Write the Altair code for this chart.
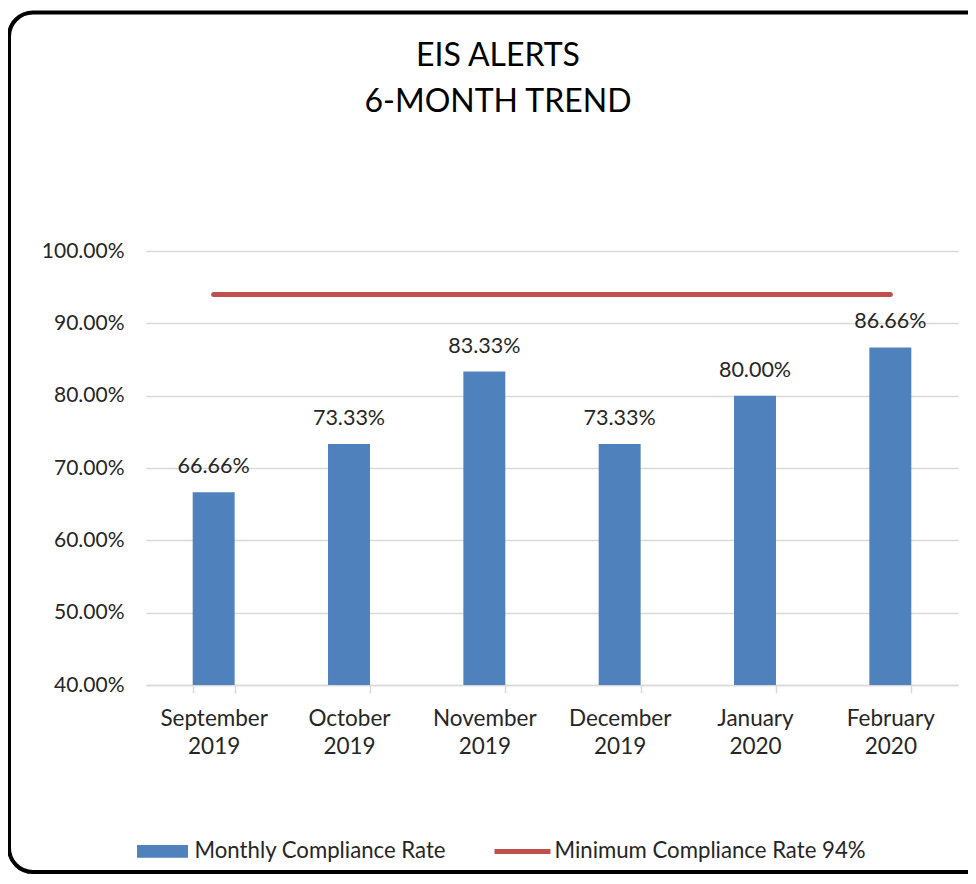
import altair as alt
import pandas as pd

months = ["September 2019", "October 2019", "November 2019",
          "December 2019", "January 2020", "February 2020"]
rates = [0.6666, 0.7333, 0.8333, 0.7333, 0.8000, 0.8666]
minimum_rate = 0.94
series_names = ["Monthly Compliance Rate", "Minimum Compliance Rate 94%"]
y_ticks = [0.4, 0.5, 0.6, 0.7, 0.8, 0.9, 1.0]
y_floor = 0.4

BLUE = "#4f81bd"
RED = "#c0504d"
GRID = "#d9d9d9"
FONT = "Lato"
TXT = "#262626"

df = pd.DataFrame({"month": months, "rate": rates})
df_min = pd.DataFrame({"month": months, "rate": [minimum_rate] * len(months)})
df_leg = pd.DataFrame({"series": series_names})
df_frame = pd.DataFrame({"a": [0]})

xscale = alt.Scale(domain=months, paddingInner=0.69, paddingOuter=0.345)
yscale = alt.Scale(domain=[0.4, 1.0], nice=False, zero=False)

x_enc = alt.X("month:N", scale=xscale, sort=months, title=None,
              axis=alt.Axis(labelExpr="split(datum.label, ' ')", labelAngle=0,
                            labelLineHeight=28, labelPadding=14, tickBand="extent",
                            tickSize=8, tickColor=GRID, tickWidth=1.5,
                            domainColor=GRID, domainWidth=1.5, grid=False,
                            labelFont=FONT, labelFontSize=22.5, labelColor=TXT))
y_enc = alt.Y("rate:Q", scale=yscale, title=None,
              axis=alt.Axis(values=y_ticks, format=".2%", domain=False, ticks=False,
                            grid=True, gridColor=GRID, gridWidth=1.5,
                            labelPadding=22, labelFont=FONT, labelFontSize=21,
                            labelColor=TXT))

bars = alt.Chart(df).mark_bar(color=BLUE).encode(x=x_enc, y=y_enc, y2=alt.datum(y_floor))

labels = alt.Chart(df).mark_text(dy=-19, baseline="alphabetic", font=FONT,
                                 fontSize=21.5, color=TXT).encode(
    x=alt.X("month:N", scale=xscale, sort=months),
    y=alt.Y("rate:Q", scale=yscale),
    text=alt.Text("rate:Q", format=".2%"))

minline = alt.Chart(df_min).mark_line(color=RED, strokeWidth=5, strokeCap="round").encode(
    x=alt.X("month:N", scale=xscale, sort=months),
    y=alt.Y("rate:Q", scale=yscale))

leg = dict(title=None, orient="none", direction="horizontal",
           legendX=-11.5, legendY=572, symbolSize=3136, symbolOpacity=1,
           symbolStrokeWidth=0, labelOffset=4, columnPadding=48,
           labelFont=FONT, labelFontSize=22.2, labelColor=TXT, labelLimit=400)

legend_layer = alt.Chart(df_leg).mark_point(opacity=0, filled=True).encode(
    color=alt.Color("series:N",
                    scale=alt.Scale(domain=series_names, range=[BLUE, RED]),
                    legend=alt.Legend(**leg)),
    shape=alt.Shape("series:N",
                    scale=alt.Scale(domain=series_names,
                                    range=["M-0.91,-0.23H0.91V0.23H-0.91Z",
                                           "M-1,-0.09H1V0.09H-1Z"]),
                    legend=alt.Legend(**leg)))

frame = alt.Chart(df_frame).mark_rect(fillOpacity=0, stroke="black", strokeWidth=4,
                                       cornerRadius=24).encode(
    x=alt.value(-137), x2=alt.value(1000), y=alt.value(-238.5), y2=alt.value(621))

chart = alt.layer(bars, minline, labels, legend_layer, frame).properties(
    width=812, height=434,
    title=alt.Title(["EIS ALERTS", "6-MONTH TREND"], font=FONT, fontSize=32,
                    fontWeight="normal", lineHeight=46, color="#000000",
                    anchor="middle", dx=-54, baseline="alphabetic", offset=-133),
    autosize=alt.AutoSizeParams(type="none"),
    padding={"left": 138, "top": 243, "right": 10, "bottom": 191},
).configure_view(stroke=None)

chart.save("out.html", embed_options={"renderer": "svg", "actions": False})
